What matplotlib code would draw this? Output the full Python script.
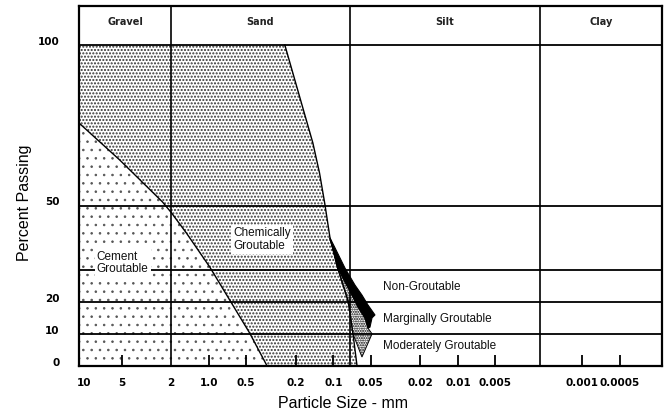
import numpy as np
import matplotlib
matplotlib.use('Agg')
import matplotlib.pyplot as plt
from matplotlib.ticker import NullLocator, FixedLocator, FixedFormatter
import matplotlib.transforms as mtrans

# ---------------- data ----------------
size_ticks = [10, 5, 2, 1.0, 0.5, 0.2, 0.1, 0.05, 0.02, 0.01, 0.005, 0.001, 0.0005]
size_tick_labels = ['10', '5', '2', '1.0', '0.5', '0.2', '0.1', '0.05', '0.02',
                    '0.01', '0.005', '0.001', '0.0005']
pct_ticks = [0, 10, 20, 50, 100]
pct_lines = [10, 20, 30, 50, 100]
class_bounds_mm = [2.0, 0.074, 0.0022]
class_names = ['Gravel', 'Sand', 'Silt', 'Clay']

# cement-groutable limit curve (particle size mm, percent passing)
cement_mm = [11.0, 5.19, 2.35, 1.99, 1.51, 0.98, 0.68, 0.47, 0.34]
cement_pct = [75.7, 64.2, 51.1, 47.7, 41.4, 30.8, 20.6, 10.3, 0.0]

# chemically-groutable limit curve
chem_mm = [0.245, 0.146, 0.129, 0.117, 0.1063, 0.0922, 0.0758, 0.0695, 0.0645]
chem_pct = [100.0, 69.5, 60.1, 50.5, 39.9, 30.5, 20.0, 10.0, 0.0]

# non-groutable (black) wedge outline
nongrout_mm = [0.1063, 0.0969, 0.0806, 0.0670, 0.0589, 0.0527, 0.0463, 0.0489,
               0.0508, 0.0527, 0.0557, 0.0634, 0.0708, 0.0806, 0.0917]
nongrout_pct = [39.9, 36.8, 30.5, 25.2, 22.1, 19.0, 15.9, 15.0,
                12.1, 11.8, 15.0, 18.4, 22.1, 26.2, 30.5]

# marginally / moderately groutable band outline
marginal_mm = [0.1063, 0.0922, 0.0758, 0.0695, 0.0589, 0.0489, 0.0527, 0.0557,
               0.0634, 0.0708, 0.0806, 0.0917]
marginal_pct = [39.9, 30.5, 20.0, 10.0, 2.8, 10.0, 11.8, 15.0,
                18.4, 22.1, 26.2, 30.5]

region_labels = ['Cement\nGroutable', 'Chemically\nGroutable', 'Non-Groutable',
                 'Marginally Groutable', 'Moderately Groutable']
region_label_mm = [7.94, 0.64, 0.040, 0.040, 0.040]
region_label_pct = [32.1, 39.4, 24.6, 14.6, 6.3]

# ---------------- layout ----------------
XLIM = (11.0, 0.00023)
YLIM = (0.0, 112.15)
HEADER_Y = 107.2


def hatched_fill(ax, x, y, hatch, color, hlw, zorder):
    with plt.rc_context({'hatch.linewidth': hlw}):
        poly = ax.fill(x, y, facecolor='white', edgecolor=color, hatch=hatch,
                       linewidth=0, zorder=zorder)[0]
    if hasattr(poly, 'set_hatch_linewidth'):
        poly.set_hatch_linewidth(hlw)
    return poly


fig = plt.figure(figsize=(6.67, 4.17), dpi=100)
ax = fig.add_axes([79 / 667, 1 - 366 / 417, 583 / 667, 360 / 417])
ax.set_xscale('log')
ax.set_xlim(*XLIM)
ax.set_ylim(*YLIM)

# cement groutable region (sparse dots)
cx = np.concatenate([[XLIM[0]], cement_mm])
cy = np.concatenate([[0.0], cement_pct])
hatched_fill(ax, cx, cy, '..', '#555555', 0.6, 1)

# chemically groutable region (fine dots)
fx = np.concatenate([[XLIM[0]], chem_mm, cement_mm[::-1]])
fy = np.concatenate([[100.0], chem_pct, cement_pct[::-1]])
hatched_fill(ax, fx, fy, '.....', '#333333', 1.0, 1)

# marginal / moderate band (denser dots)
hatched_fill(ax, marginal_mm, marginal_pct, '.......', '#000000', 1.0, 1.5)
ax.fill(marginal_mm, marginal_pct, facecolor='none', edgecolor='black',
        linewidth=0.7, zorder=2.5)

# boundary curves
ax.plot(cement_mm, cement_pct, color='black', lw=1.0, zorder=2.5)
ax.plot(chem_mm, chem_pct, color='black', lw=1.0, zorder=2.5)

# grid lines
for p in pct_lines:
    ax.axhline(p, color='black', lw=1.3, zorder=2)
for b in class_bounds_mm:
    ax.axvline(b, color='black', lw=1.2, zorder=2)

# non-groutable black wedge
ax.fill(nongrout_mm, nongrout_pct, facecolor='black', edgecolor='black', lw=0.8, zorder=3)

# header labels
edges = [XLIM[0]] + class_bounds_mm + [XLIM[1]]
for i, name in enumerate(class_names):
    xc = np.sqrt(edges[i] * edges[i + 1])
    ax.text(xc, HEADER_Y, name, ha='center', va='center', fontsize=7,
            fontweight='bold', family='DejaVu Sans', color='#222222')

# region labels
for i, (lab, xm, yp) in enumerate(zip(region_labels, region_label_mm, region_label_pct)):
    kw = {}
    if i < 2:
        kw['bbox'] = dict(facecolor='white', edgecolor='none', pad=1.5)
    ax.text(xm, yp, lab, ha='left', va='center', fontsize=8.5, family='Liberation Sans',
            color='#111111', linespacing=1.1, zorder=4, **kw)

# ticks
ax.xaxis.set_minor_locator(NullLocator())
ax.xaxis.set_major_locator(FixedLocator(size_ticks))
ax.xaxis.set_major_formatter(FixedFormatter(size_tick_labels))
ax.tick_params(axis='x', direction='in', length=8, width=1.3, pad=9,
               labelsize=7.5, colors='black')
for t in ax.get_xticklabels():
    t.set_fontweight('bold')
    t.set_family('DejaVu Sans')
for t, v in zip(ax.xaxis.get_major_ticks(), size_ticks):
    if v in (10, 2):
        t.tick1line.set_visible(False)

ax.set_yticks(pct_ticks)
ax.set_yticklabels([str(v) for v in pct_ticks])
ax.tick_params(axis='y', length=0, pad=14, labelsize=7.5)
offset = mtrans.ScaledTranslation(0, 3 / 72, fig.dpi_scale_trans)
for t in ax.get_yticklabels():
    t.set_fontweight('bold')
    t.set_family('DejaVu Sans')
    t.set_transform(t.get_transform() + offset)

for s in ax.spines.values():
    s.set_linewidth(1.6)
    s.set_zorder(5)

ax.set_xlabel('Particle Size - mm', fontsize=11.5, family='Liberation Sans', va='center')
ax.xaxis.set_label_coords((342.5 - 79) / 583, (366 - 403) / 360)
ax.set_ylabel('Percent Passing', fontsize=11.5, family='Liberation Sans', va='center')
ax.yaxis.set_label_coords((25 - 79) / 583, (366 - 203) / 360)

fig.savefig('out.png', dpi=100)
